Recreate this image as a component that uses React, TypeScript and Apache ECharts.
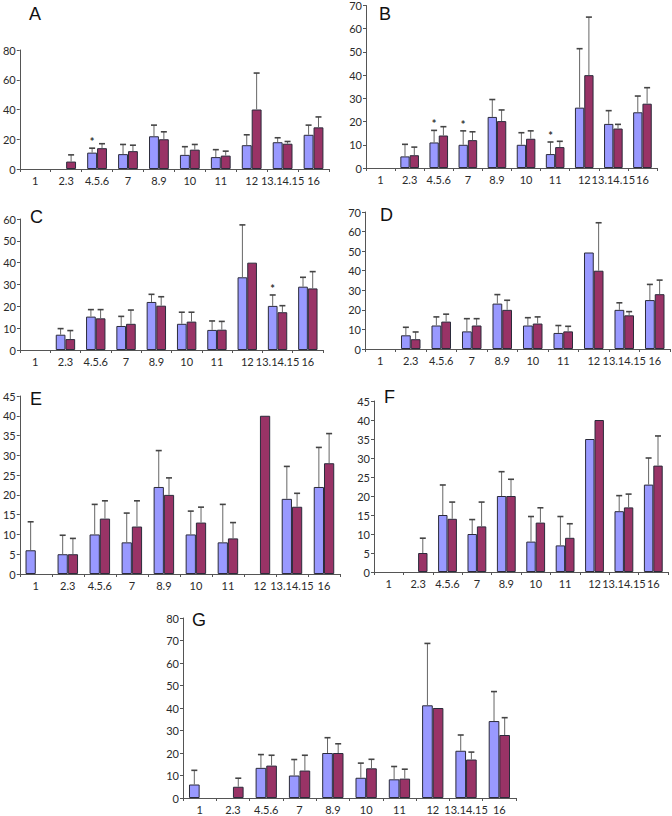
import React, { useEffect, useRef } from "react";
import * as echarts from "echarts";

const categories = ["1", "2.3", "4.5.6", "7", "8.9", "10", "11", "12", "13.14.15", "16"];
const panelLetters = ["A", "B", "C", "D", "E", "F", "G"];
const yMaxes = [80, 70, 60, 70, 45, 45, 80];
const yIntervals = [20, 10, 10, 10, 5, 5, 10];

// Panel A
const blueA = [null, null, 11, 10, 22, 9.5, 8, 16, 18, 23];
const blueErrA = [null, null, 14, 16.5, 29.5, 15, 13, 23, 21, 29.5];
const redA = [null, 5, 14, 12, 20, 13, 9, 40, 17, 28];
const redErrA = [null, 9.5, 17, 16, 25, 16.5, 12, 64.5, 18.5, 35];
const starsA = ["4.5.6"];
// Panel B
const blueB = [null, 5, 11, 10, 22, 10, 6, 26, 19, 24];
const blueErrB = [null, 10.2, 16.2, 16, 29.5, 15.2, 11.2, 51.4, 24.7, 31];
const redB = [null, 5.5, 14, 12, 20.2, 12.6, 9, 40, 17, 27.7];
const redErrB = [null, 9, 17.8, 15.6, 25, 16, 11.5, 65, 18.8, 34.6];
const starsB = ["4.5.6", "7", "11"];
// Panel C
const blueC = [null, 7, 15.3, 11, 22, 12, 9.2, 33.3, 20.2, 29];
const blueErrC = [null, 9.8, 18.5, 15.4, 25.5, 17.3, 13.3, 57.3, 25.2, 33.3];
const redC = [null, 5, 14.5, 12, 20.3, 13, 9.3, 40, 17.3, 28.2];
const redErrC = [null, 8.9, 18.5, 18.3, 24.4, 17.3, 13.1, null, 20.3, 35.9];
const starsC = ["13.14.15"];
// Panel D
const blueD = [null, 7, 12, 9, 23.2, 12, 8.2, 49.3, 20, 25];
const blueErrD = [null, 11.1, 16.4, 15.5, 27.8, 16, 12, null, 23.6, 33];
const redD = [null, 5, 14, 12, 20, 13, 9, 40, 17.2, 28];
const redErrD = [null, 8.7, 17.8, 15.5, 24.9, 16.4, 11.6, 64.5, 19.1, 35.2];
const starsD: string[] = [];
// Panel E
const blueE = [6, 5, 10, 8, 22, 10, 8, null, 19, 22];
const blueErrE = [13.2, 9.8, 17.6, 15.4, 31.2, 15.9, 17.6, null, 27.2, 32];
const redE = [null, 5, 14, 12, 20, 13, 9, 40, 17, 28];
const redErrE = [null, 9, 18.5, 18.5, 24.3, 16.9, 13, null, 20.4, 35.5];
const starsE: string[] = [];
// Panel F
const blueF = [null, null, 15, 10, 20, 8, 7, 35, 16, 23];
const blueErrF = [null, null, 22.9, 13.8, 26.4, 14.6, 14.6, null, 20.1, 30];
const redF = [null, 5, 14, 12, 20, 13, 9, 40, 17, 28];
const redErrF = [null, 8.9, 18.4, 18.4, 24.4, 16.9, 12.7, null, 20.5, 35.8];
const starsF: string[] = [];
// Panel G
const blueG = [6, null, 13.4, 10, 20, 9, 8.3, 41.2, 21, 34.2];
const blueErrG = [12.3, null, 19.3, 17.1, 26.8, 15.5, 14, 68.7, 28, 47.3];
const redG = [null, 5, 14.4, 12.2, 20, 13.2, 8.6, 40, 17.1, 28];
const redErrG = [null, 8.8, 19, 19, 24.1, 17.2, 12.8, null, 20.4, 35.7];
const starsG: string[] = [];

const blues = [blueA, blueB, blueC, blueD, blueE, blueF, blueG];
const blueErrs = [blueErrA, blueErrB, blueErrC, blueErrD, blueErrE, blueErrF, blueErrG];
const reds = [redA, redB, redC, redD, redE, redF, redG];
const redErrs = [redErrA, redErrB, redErrC, redErrD, redErrE, redErrF, redErrG];
const stars = [starsA, starsB, starsC, starsD, starsE, starsF, starsG];

// layout (pixels)
const grids = [
  { left: 17, top: 50, width: 312, height: 119 },
  { left: 366, top: 5, width: 291, height: 163 },
  { left: 20, top: 219, width: 303, height: 131 },
  { left: 365, top: 212, width: 305, height: 137 },
  { left: 19, top: 396, width: 321, height: 178 },
  { left: 374, top: 401, width: 294, height: 171 },
  { left: 183, top: 618, width: 333, height: 180 },
];
const letterPos = [
  [29, 5], [379, 5], [30, 208], [380, 206], [30, 390], [384, 388], [192, 611],
];

const BLUE = "#9999ff";
const RED = "#993366";
const GAP = 0.36;
const FONT = "Lato, 'Liberation Sans', sans-serif";
const TEXT = "#2a2a2a";
const AXIS = "#555";

function errRender(side: number) {
  return (params: any, api: any) => {
    const ci = api.value(0);
    const v = api.value(1);
    const e = api.value(2);
    const s = api.value(3);
    const band = api.size([1, 0])[0];
    const barW = (band * (1 - GAP)) / 2;
    const base = api.coord([ci, v]);
    const x = base[0] + (side * barW) / 2;
    const children: any[] = [];
    let topY = base[1];
    if (!isNaN(e) && e > v) {
      const top = api.coord([ci, e]);
      topY = top[1];
      children.push({
        type: "line",
        shape: { x1: x, y1: base[1], x2: x, y2: topY },
        style: { stroke: "#666", lineWidth: 1 },
      });
      children.push({
        type: "line",
        shape: { x1: x - 3, y1: topY, x2: x + 3, y2: topY },
        style: { stroke: "#444", lineWidth: 1.6 },
      });
    }
    if (s === 1) {
      children.push({
        type: "text",
        style: {
          x: x,
          y: topY - 1,
          text: "*",
          fill: "#333",
          font: "bold 11px " + FONT,
          align: "center",
          verticalAlign: "bottom",
        },
      });
    }
    return { type: "group", children };
  };
}

export default function App() {
  const ref = useRef<HTMLDivElement>(null);
  useEffect(() => {
    if (!ref.current) return;
    const chart = echarts.init(ref.current, null, { renderer: "svg" });
    const grid: any[] = [];
    const xAxis: any[] = [];
    const yAxis: any[] = [];
    const series: any[] = [];
    const graphic: any[] = [];
    for (let p = 0; p < 7; p++) {
      grid.push({ ...grids[p], containLabel: false });
      xAxis.push({
        type: "category",
        gridIndex: p,
        data: categories,
        axisLine: { lineStyle: { color: AXIS, width: 1 } },
        axisTick: { show: true, length: 3, lineStyle: { color: AXIS } },
        axisLabel: {
          interval: 0,
          color: TEXT,
          fontSize: 11,
          fontFamily: FONT,
          margin: 6,
          hideOverlap: false,
        },
        splitLine: { show: false },
      });
      yAxis.push({
        type: "value",
        gridIndex: p,
        min: 0,
        max: yMaxes[p],
        interval: yIntervals[p],
        axisLine: { show: true, lineStyle: { color: AXIS, width: 1 } },
        axisTick: { show: true, length: 3, lineStyle: { color: AXIS } },
        axisLabel: { color: TEXT, fontSize: 11, fontFamily: FONT, margin: 4 },
        splitLine: { show: false },
      });
      const barStyle = (c: string) => ({ color: c, borderColor: "#2b2b3b", borderWidth: 1 });
      series.push({
        type: "bar",
        xAxisIndex: p,
        yAxisIndex: p,
        data: blues[p],
        barGap: "0%",
        barCategoryGap: GAP * 100 + "%",
        itemStyle: barStyle(BLUE),
        silent: true,
      });
      series.push({
        type: "bar",
        xAxisIndex: p,
        yAxisIndex: p,
        data: reds[p],
        barGap: "0%",
        barCategoryGap: GAP * 100 + "%",
        itemStyle: barStyle(RED),
        silent: true,
      });
      const mk = (vals: any[], errs: any[], isBlue: boolean) => {
        const out: any[] = [];
        vals.forEach((v, i) => {
          const star = isBlue && stars[p].includes(categories[i]) ? 1 : 0;
          if (v == null) return;
          if (errs[i] == null && !star) return;
          out.push([i, v, errs[i] == null ? NaN : errs[i], star]);
        });
        return out;
      };
      series.push({
        type: "custom",
        xAxisIndex: p,
        yAxisIndex: p,
        renderItem: errRender(-1),
        data: mk(blues[p], blueErrs[p], true),
        encode: { x: 0, y: 1 },
        silent: true,
        z: 5,
      });
      series.push({
        type: "custom",
        xAxisIndex: p,
        yAxisIndex: p,
        renderItem: errRender(1),
        data: mk(reds[p], redErrs[p], false),
        encode: { x: 0, y: 1 },
        silent: true,
        z: 5,
      });
      graphic.push({
        type: "text",
        left: letterPos[p][0],
        top: letterPos[p][1],
        style: {
          text: panelLetters[p],
          fill: "#111",
          font: "18px 'Liberation Sans', Arial, sans-serif",
        },
      });
    }
    chart.setOption({
      animation: false,
      backgroundColor: "#ffffff",
      grid,
      xAxis,
      yAxis,
      series,
      graphic,
    });
    return () => chart.dispose();
  }, []);
  return (
    <div
      ref={ref}
      style={{ position: "fixed", left: 0, top: 0, width: 672, height: 816 }}
    />
  );
}
